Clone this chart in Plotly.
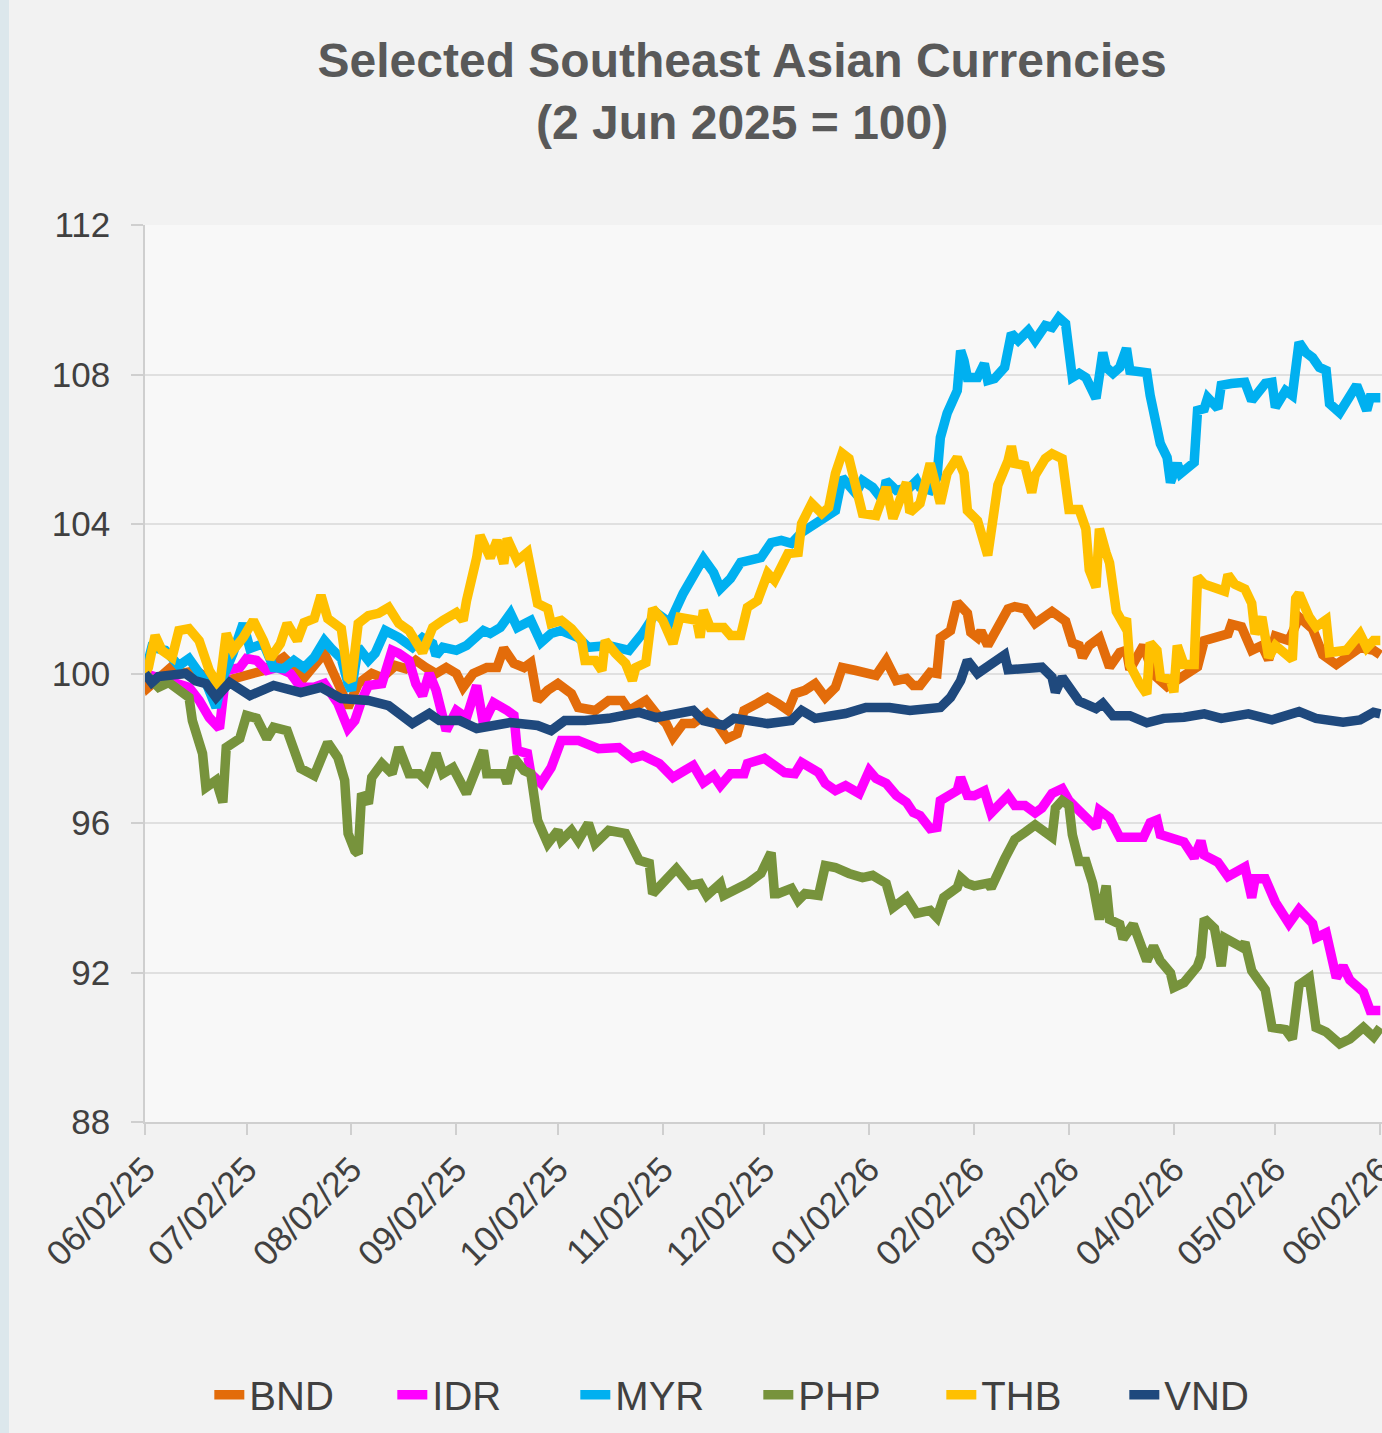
import pandas as pd
import plotly.graph_objects as go

BASE_DATE = "2025-06-02"
series_names = ["BND", "IDR", "MYR", "PHP", "THB", "VND"]
series_colors = ["#E36C0A", "#FF00FF", "#00B0F0", "#77933C", "#FFC000", "#1F497D"]

# days since 2 Jun 2025, index values (2 Jun 2025 = 100)
bnd_days = [0,1,9,11,15,21,35,41,47,53,58,60,63,67,70,74,77,80,83,86,89,92,94,97,101,104,106,109,112,114,116,119,122,124,126,128,133,137,141,143,148,151,154,156,159,162,166,169,172,175,177,181,184,187,190,192,195,198,201,204,206,210,214,216,219,222,225,227,229,232,234,235,238,240,243,244,246,247,249,253,255,257,260,263,266,268,272,274,276,277,279,282,285,288,290,291,295,298,302,305,307,311,313,317,320,321,324,327,330,332,334,338,341,345,348,352,355,359,363,365]
bnd_vals = [100.0,99.63,100.27,100.0,100.08,99.73,100.08,100.43,99.89,100.54,99.55,99.09,99.73,100.0,99.89,100.21,100.13,100.35,100.16,100.0,100.16,100.0,99.63,100.0,100.16,100.16,100.67,100.27,100.16,100.29,99.28,99.55,99.73,99.63,99.46,99.09,99.01,99.28,99.28,99.01,99.28,98.93,98.66,98.29,98.66,98.66,98.93,98.66,98.26,98.39,99.01,99.2,99.36,99.2,99.01,99.46,99.55,99.73,99.36,99.63,100.16,100.08,100.0,99.95,100.35,99.81,99.87,99.68,99.68,100.03,100.0,100.96,101.15,101.9,101.61,101.1,100.96,101.14,100.75,101.4,101.73,101.79,101.73,101.34,101.53,101.66,101.4,100.82,100.75,100.43,100.75,100.95,100.17,100.56,100.62,100.1,100.75,99.97,99.65,99.84,99.91,100.18,100.88,101.0,101.06,101.32,101.25,100.62,100.75,100.37,101.0,100.88,101.51,101.19,100.5,100.24,100.43,100.69,100.62,100.5]

idr_days = [0,10,13,16,19,22,24,28,30,33,36,39,43,46,50,53,57,60,62,64,66,70,73,75,78,80,82,84,86,89,92,95,98,100,103,107,109,110,113,114,117,120,123,128,134,140,144,147,152,156,162,165,168,170,173,177,178,183,189,192,194,199,201,204,207,211,214,216,219,222,225,227,229,232,234,235,240,241,243,245,248,250,255,257,260,263,265,268,271,273,277,281,282,285,288,295,297,299,300,304,307,310,312,313,317,320,325,327,328,331,334,338,341,345,346,349,352,354,356,360,362,365]
idr_vals = [100.0,99.76,99.63,99.28,98.82,98.53,100.08,100.16,100.4,100.35,100.08,100.16,100.0,99.63,99.63,99.73,99.2,98.53,98.74,99.28,99.68,99.73,100.62,100.54,100.35,99.73,99.41,100.0,99.55,98.47,99.01,98.82,99.68,98.66,99.22,99.01,98.88,97.94,97.86,97.32,97.06,97.48,98.21,98.21,97.99,98.02,97.73,97.81,97.59,97.22,97.54,97.08,97.27,97.0,97.32,97.32,97.59,97.73,97.35,97.32,97.62,97.35,97.06,96.87,97.0,96.79,97.4,97.19,97.06,96.74,96.55,96.28,96.2,95.85,95.88,96.6,96.87,97.22,96.74,96.73,96.86,96.27,96.73,96.47,96.47,96.27,96.4,96.79,96.92,96.6,96.21,95.88,96.34,96.14,95.62,95.62,96.01,96.08,95.69,95.56,95.49,95.07,95.52,95.14,94.95,94.57,94.82,94.0,94.51,94.51,93.88,93.31,93.69,93.31,92.93,93.06,91.86,92.17,91.8,91.48,90.98,90.98]

myr_days = [0,2,6,8,10,13,15,18,21,23,26,29,31,35,38,41,44,47,50,53,55,58,60,61,63,66,68,71,75,79,82,85,86,88,92,95,100,102,105,108,110,114,117,120,123,128,131,137,143,147,151,155,159,162,165,168,170,173,176,182,185,188,191,194,198,202,204,206,210,212,215,218,219,222,226,228,229,232,234,235,237,240,241,242,243,246,248,249,251,254,256,258,261,263,266,268,270,272,274,276,278,281,283,284,286,288,290,291,296,297,299,300,302,303,305,306,310,311,313,314,317,318,321,325,327,331,333,334,337,339,341,343,345,347,349,350,353,355,358,361,362,365]
myr_vals = [100.0,100.7,100.62,100.43,100.21,100.4,100.16,99.76,99.09,99.89,100.54,101.34,100.67,100.8,100.16,100.13,100.35,100.16,100.43,100.88,100.67,100.4,99.73,99.55,100.7,100.35,100.54,101.15,100.96,100.7,100.96,100.8,100.48,100.7,100.62,100.75,101.15,101.07,101.23,101.61,101.23,101.42,100.83,101.07,101.15,100.96,100.7,100.75,100.62,101.07,101.63,101.36,102.14,102.68,103.08,102.7,102.27,102.54,102.97,103.1,103.5,103.56,103.48,103.77,104.01,104.23,104.36,105.24,104.82,105.16,104.98,104.63,105.16,104.9,104.98,105.16,104.98,104.9,105.24,106.31,106.96,107.57,108.64,108.37,107.92,107.92,108.29,107.84,107.89,108.19,109.1,108.91,109.18,108.91,109.31,109.26,109.52,109.36,107.92,108.03,107.92,107.36,108.59,108.19,108.03,108.19,108.7,108.11,108.05,107.44,106.6,106.15,105.78,105.11,105.62,105.35,105.65,107.04,107.09,107.38,107.09,107.71,107.76,107.79,107.3,107.76,107.79,107.12,107.57,107.44,108.86,108.59,108.45,108.19,108.11,107.22,106.98,107.25,107.71,107.04,107.38,107.38]

php_days = [0,4,7,9,13,14,17,18,21,23,24,28,30,33,36,38,40,42,46,50,54,57,59,60,62,63,64,66,67,70,73,75,78,81,83,86,88,91,95,100,101,106,107,109,112,114,116,119,122,123,126,128,131,133,137,142,146,149,150,157,161,164,166,170,171,173,178,182,185,186,187,191,193,195,199,201,204,208,212,215,219,221,225,228,232,234,236,240,241,243,245,249,250,254,257,260,263,268,269,271,273,274,276,278,280,282,284,285,288,289,292,296,298,300,303,304,307,311,312,313,316,318,319,324,325,327,331,333,337,339,341,344,346,349,353,356,360,363,365]
php_vals = [100.0,99.63,99.76,99.63,99.36,98.74,97.86,96.95,97.14,96.55,98.02,98.26,98.88,98.8,98.26,98.56,98.53,98.47,97.46,97.27,98.15,97.75,97.14,95.72,95.26,95.18,96.79,96.52,97.22,97.59,97.32,98.02,97.32,97.32,97.14,97.86,97.32,97.48,96.79,97.94,97.32,97.32,97.06,97.75,97.4,97.32,96.07,95.45,95.8,95.53,95.8,95.53,95.99,95.45,95.8,95.72,95.0,94.92,94.11,94.78,94.33,94.38,94.06,94.38,94.06,94.14,94.38,94.65,95.21,94.11,94.11,94.25,93.93,94.11,94.06,94.86,94.81,94.65,94.54,94.6,94.38,93.74,94.01,93.58,93.66,93.47,94.01,94.27,94.54,94.38,94.32,94.39,94.26,95.04,95.56,95.75,95.95,95.62,96.4,96.6,96.47,95.69,94.97,94.97,94.39,93.42,94.32,93.42,93.29,92.9,93.29,92.31,92.7,92.31,91.99,91.6,91.73,92.17,92.43,93.44,93.18,92.17,92.93,92.68,92.8,92.05,91.54,90.53,90.47,90.22,91.67,91.86,90.53,90.41,90.09,90.22,90.53,90.28,90.53]

thb_days = [0,1,3,5,8,10,13,16,19,22,24,26,29,32,35,37,40,42,45,47,50,52,54,58,60,61,63,66,69,72,75,78,82,85,88,92,94,95,98,99,102,104,106,107,110,113,116,119,120,123,126,129,130,133,135,136,139,142,144,145,148,150,153,156,158,163,164,165,167,171,173,176,178,181,184,186,190,193,194,197,200,202,204,206,208,210,212,216,219,221,225,226,229,232,235,237,240,242,243,246,249,252,255,256,257,260,262,263,266,268,271,273,276,278,279,281,282,284,285,287,289,290,291,294,296,297,299,300,303,304,305,307,310,311,313,319,320,322,325,327,328,330,332,334,339,340,341,344,346,349,350,355,359,361,363,365]
thb_vals = [100.0,100.16,101.02,100.62,100.43,101.15,101.2,100.88,100.08,99.63,101.07,100.62,100.96,101.42,100.88,100.4,100.8,101.34,100.88,101.36,101.47,102.09,101.47,101.2,99.89,99.81,101.34,101.55,101.61,101.77,101.34,101.15,100.56,101.23,101.42,101.63,101.42,101.95,103.1,103.69,103.1,103.56,102.94,103.61,103.02,103.24,101.87,101.74,101.34,101.42,101.2,100.88,100.35,100.35,100.08,100.88,100.54,100.27,99.81,100.16,100.29,101.74,101.42,100.8,101.5,101.42,100.96,101.69,101.23,101.23,101.02,101.02,101.77,101.95,102.68,102.49,103.21,103.24,104.01,104.55,104.28,104.44,105.35,105.89,105.75,104.98,104.28,104.23,104.98,104.15,105.11,104.31,104.55,105.62,104.55,105.35,105.78,105.35,104.36,104.09,103.16,105.04,105.69,106.08,105.62,105.56,104.84,105.3,105.75,105.88,105.75,104.39,104.39,103.87,102.77,102.31,103.87,103.22,102.96,101.66,101.34,101.47,100.23,99.71,99.45,100.82,100.62,99.91,99.84,99.5,100.75,100.24,100.24,102.58,102.39,102.2,102.64,102.39,102.26,101.88,101.06,101.51,100.43,100.75,100.37,102.01,102.14,101.51,101.25,101.44,100.56,100.62,101.06,100.69,100.88,100.88]

vnd_days = [0,2,4,9,12,15,18,21,25,31,38,46,52,58,62,66,72,79,84,87,93,98,108,116,120,124,130,137,146,151,162,165,171,174,184,191,194,198,207,213,220,226,235,238,241,243,246,250,254,255,265,268,269,271,276,281,283,286,291,296,301,307,313,318,326,333,341,346,354,359,363,365]
vnd_vals = [100.0,99.76,99.92,99.97,100.0,99.8,99.73,99.36,99.76,99.41,99.68,99.49,99.63,99.33,99.28,99.28,99.14,98.66,98.93,98.74,98.74,98.53,98.69,98.61,98.47,98.74,98.74,98.80,98.96,98.82,99.01,98.74,98.61,98.80,98.66,98.74,99.01,98.80,98.93,99.09,99.09,99.01,99.09,99.36,99.81,100.35,100.0,100.23,100.5,100.1,100.17,99.9,99.5,99.9,99.26,99.06,99.2,98.87,98.87,98.68,98.8,98.83,98.92,98.8,98.92,98.76,98.98,98.8,98.7,98.76,98.96,98.92]

tick_dates = ["2025-06-02", "2025-07-02", "2025-08-02", "2025-09-02", "2025-10-02", "2025-11-02",
              "2025-12-02", "2026-01-02", "2026-02-02", "2026-03-02", "2026-04-02", "2026-05-02", "2026-06-02"]
tick_labels = ["06/02/25", "07/02/25", "08/02/25", "09/02/25", "10/02/25", "11/02/25",
               "12/02/25", "01/02/26", "02/02/26", "03/02/26", "04/02/26", "05/02/26", "06/02/26"]
y_ticks = [88, 92, 96, 100, 104, 108, 112]

all_days = [bnd_days, idr_days, myr_days, php_days, thb_days, vnd_days]
all_vals = [bnd_vals, idr_vals, myr_vals, php_vals, thb_vals, vnd_vals]

FONT = "Liberation Sans, Arial, sans-serif"
base = pd.Timestamp(BASE_DATE)

fig = go.Figure()
for name, color, days, vals in zip(series_names, series_colors, all_days, all_vals):
    dates = base + pd.to_timedelta(days, unit="D")
    fig.add_trace(go.Scatter(
        x=dates, y=vals, name=name, mode="lines",
        line=dict(color=color, width=9.5),
    ))

W, H = 1382, 1433
fig.update_layout(
    width=W, height=H, autosize=False,
    paper_bgcolor="#f2f2f2", plot_bgcolor="#f8f8f8",
    margin=dict(l=145, r=0, t=225, b=311, autoexpand=False),
    font=dict(family=FONT, color="#404040"),
    title=dict(
        text="<b>Selected Southeast Asian Currencies<br>(2 Jun 2025 = 100)</b>",
        font=dict(family=FONT, size=48, color="#595959"),
        xref="container", x=0.537, xanchor="center",
        yref="container", y=1 - 77 / H, yanchor="middle",
    ),
    showlegend=True,
    legend=dict(
        orientation="h", x=0.052, xanchor="left", y=-0.304, yanchor="middle",
        font=dict(family=FONT, size=40, color="#404040"),
        entrywidth=138, entrywidthmode="pixels",
        bgcolor="rgba(0,0,0,0)",
    ),
    shapes=[dict(type="rect", xref="paper", yref="paper",
                 x0=-145 / 1237, x1=-136 / 1237, y0=-311 / 897, y1=1 + 225 / 897,
                 fillcolor="#dce7ec", line=dict(width=0), layer="below")],
)
fig.update_xaxes(
    type="date", range=["2025-06-02", "2026-06-02 12:00"],
    tickvals=tick_dates, ticktext=tick_labels, tickangle=-45,
    tickfont=dict(family=FONT, size=35, color="#404040"),
    ticklabeloverflow="allow",
    showgrid=False, showline=True, linecolor="#cfcfcf", linewidth=1.5,
    ticks="outside", ticklen=11, tickwidth=1.5, tickcolor="#cfcfcf",
    automargin=False, zeroline=False,
)
fig.update_yaxes(
    range=[88, 112], tickvals=y_ticks,
    tickfont=dict(family=FONT, size=35, color="#404040"),
    showgrid=True, gridcolor="#e0e0e0", gridwidth=1.5,
    showline=True, linecolor="#cfcfcf", linewidth=1.5,
    ticks="outside", ticklen=12, tickwidth=1.5, tickcolor="#cfcfcf",
    ticklabelstandoff=14, automargin=False, zeroline=False,
)

fig.write_html("out.html", config={"displayModeBar": False},
               post_script="document.body.style.margin='0';")
